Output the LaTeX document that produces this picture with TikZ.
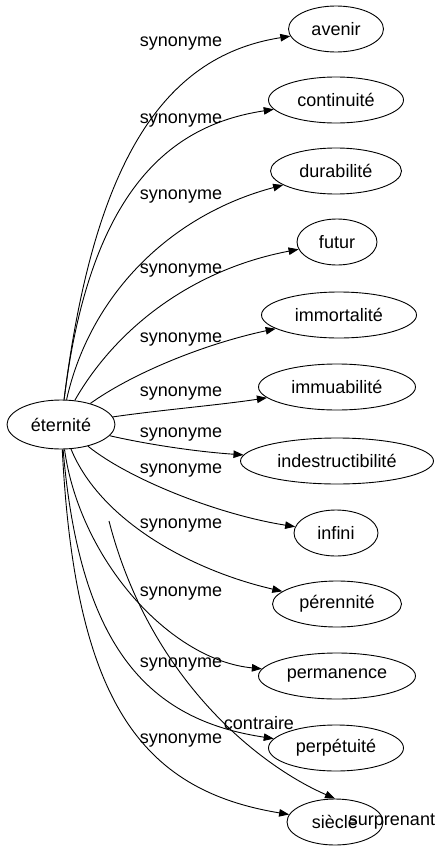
\documentclass[tikz,border=0pt]{standalone}
\usepackage{fontspec}
\setmainfont{Liberation Sans}
\usetikzlibrary{shapes.geometric,arrows.meta}
\begin{document}
\begin{tikzpicture}[x=1pt,y=-1pt,
  word/.style={ellipse,draw,line width=0.9pt,inner sep=0pt,minimum height=46pt,font=\fontsize{18}{20}\selectfont},
  lbl/.style={inner sep=0pt,font=\fontsize{18}{20}\selectfont},
  rel/.style={draw,line width=0.9pt,-{Triangle[length=10pt,width=7.5pt]}}]
\useasboundingbox (0,0) rectangle (438,851);

\node[word,minimum width=108pt,minimum height=49pt] (e) at (61,424.5) {éternité};
\node[word,minimum width=95pt]  (n1)  at (336,29)  {avenir};
\node[word,minimum width=135pt] (n2)  at (336,100) {continuité};
\node[word,minimum width=131pt] (n3)  at (336,171) {durabilité};
\node[word,minimum width=80pt]  (n4)  at (337,242) {futur};
\node[word,minimum width=155pt] (n5)  at (339,315) {immortalité};
\node[word,minimum width=157pt] (n6)  at (337,387) {immuabilité};
\node[word,minimum width=193pt] (n7)  at (337,461) {indestructibilité};
\node[word,minimum width=84pt]  (n8)  at (336,533) {infini};
\node[word,minimum width=129pt] (n9)  at (337,604) {pérennité};
\node[word,minimum width=157pt] (n10) at (337,676) {permanence};
\node[word,minimum width=135pt] (n11) at (336,748) {perpétuité};
\node[word,minimum width=96pt]  (n12) at (335,822) {siècle};
\node[lbl] (sur) at (392,822) {surprenant};

\node[lbl] (l1)  at (181,44)  {synonyme};
\node[lbl] (l2)  at (181,121) {synonyme};
\node[lbl] (l3)  at (181,197) {synonyme};
\node[lbl] (l4)  at (181,271) {synonyme};
\node[lbl] (l5)  at (181,340) {synonyme};
\node[lbl] (l6)  at (181,394) {synonyme};
\node[lbl] (l7)  at (181,435) {synonyme};
\node[lbl] (l8)  at (181,471) {synonyme};
\node[lbl] (l9)  at (181,526) {synonyme};
\node[lbl] (l10) at (181,594) {synonyme};
\node[lbl] (l11) at (181,665) {synonyme};
\node[lbl] (l12) at (181,741) {synonyme};
\node[lbl] (lc)  at (259,723) {contraire};

\coordinate (cstart) at (109,521);

\path[rel] (e) .. controls (95,150) and (170,55) .. (n1);
\path[rel] (e) .. controls (90,190) and (170,125) .. (n2);
\path[rel] (e) .. controls (90,295) and (170,215) .. (n3);
\path[rel] (e) .. controls (115,330) and (190,270) .. (n4);
\path[rel] (e) .. controls (130,375) and (200,345) .. (n5);
\path[rel] (e) .. controls (160,410) and (220,405) .. (n6);
\path[rel] (e) .. controls (150,445) and (200,452) .. (n7);
\path[rel] (e) .. controls (130,480) and (220,515) .. (n8);
\path[rel] (e) .. controls (100,520) and (190,570) .. (n9);
\path[rel] (e) .. controls (80,560) and (170,660) .. (n10);
\path[rel] (e) .. controls (80,650) and (150,720) .. (n11);
\path[rel] (e) .. controls (75,700) and (140,790) .. (n12);
\path[rel] (cstart) .. controls (150,680) and (260,766) .. (n12.north);
\end{tikzpicture}
\end{document}
